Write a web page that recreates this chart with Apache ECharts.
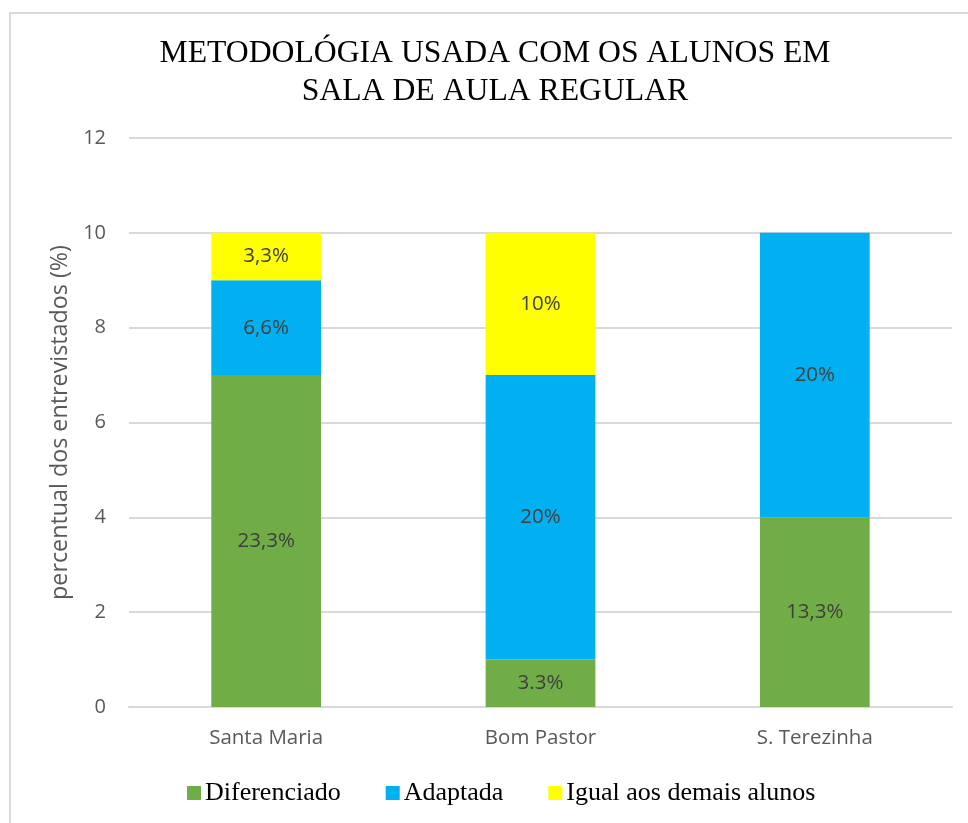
<!DOCTYPE html>
<html><head><meta charset="utf-8">
<script src="https://cdn.jsdelivr.net/npm/echarts@6/dist/echarts.min.js"></script>
<style>html,body{margin:0;padding:0;background:#fff}#frame{position:absolute;left:9px;top:12px;width:970px;height:830px;border-left:2px solid #d9d9d9;border-top:2px solid #d9d9d9;box-sizing:border-box}#c{position:absolute;left:0;top:0;width:968px;height:823px}</style>
</head><body>
<div id="frame"></div>
<div id="c"></div>
<script>
const categories = ['Santa Maria', 'Bom Pastor', 'S. Terezinha'];
const diferenciado = [7, 1, 4];
const adaptada = [2, 6, 6];
const igual = [1, 3, 0];
const labelsDif = ['23,3%', '3.3%', '13,3%'];
const labelsAda = ['6,6%', '20%', '20%'];
const labelsIgu = ['3,3%', '10%', ''];
const yTicks = [0, 2, 4, 6, 8, 10, 12];
const titleLines = ['METODOLÓGIA USADA COM OS ALUNOS EM', 'SALA DE AULA REGULAR'];

const chart = echarts.init(document.getElementById('c'));
const lbl = (arr) => ({show: true, position: 'inside', color: '#404040', fontSize: 20.5, fontFamily: 'Open Sans',
  formatter: p => arr[p.dataIndex]});
chart.setOption({
  animation: false,
  graphic: titleLines.map((t, i) => ({type: 'text', x: 495, y: 53.5 + i * 38, z: 10,
    style: {text: t, align: 'center', verticalAlign: 'middle',
      font: 'normal 31.7px "Liberation Serif"', fill: '#000'}})),
  legend: {bottom: 12, left: 182, itemWidth: 14, itemHeight: 14, itemGap: 45, icon: 'rect',
    textStyle: {fontFamily: 'Liberation Serif', fontSize: 26, color: '#000', padding: [0,0,0,-1]}},
  grid: {left: 129, right: 16, top: 138, bottom: 116},
  xAxis: {type: 'category', data: categories, axisTick: {show: false},
    axisLine: {lineStyle: {color: '#d9d9d9', width: 2}},
    axisLabel: {color: '#595959', fontSize: 20.5, fontFamily: 'Open Sans', margin: 21}},
  yAxis: {type: 'value', min: yTicks[0], max: yTicks[yTicks.length-1], interval: 2,
    name: 'percentual dos entrevistados (%)', nameLocation: 'middle', nameGap: 52,
    nameTextStyle: {color: '#595959', fontSize: 23.3, fontFamily: 'Open Sans'},
    axisLine: {show: false}, axisTick: {show: false},
    axisLabel: {color: '#595959', fontSize: 20, fontFamily: 'Open Sans', margin: 23},
    splitLine: {lineStyle: {color: '#d9d9d9', width: 2}}},
  series: [
    {name: 'Diferenciado', type: 'bar', stack: 's', data: diferenciado, barWidth: '40%', itemStyle: {color: '#70AD47'}, label: lbl(labelsDif)},
    {name: 'Adaptada', type: 'bar', stack: 's', data: adaptada, itemStyle: {color: '#00B0F0'}, label: lbl(labelsAda)},
    {name: 'Igual aos demais alunos', type: 'bar', stack: 's', data: igual, itemStyle: {color: '#FFFF00'}, label: lbl(labelsIgu)}
  ]
});
</script>
</body></html>
